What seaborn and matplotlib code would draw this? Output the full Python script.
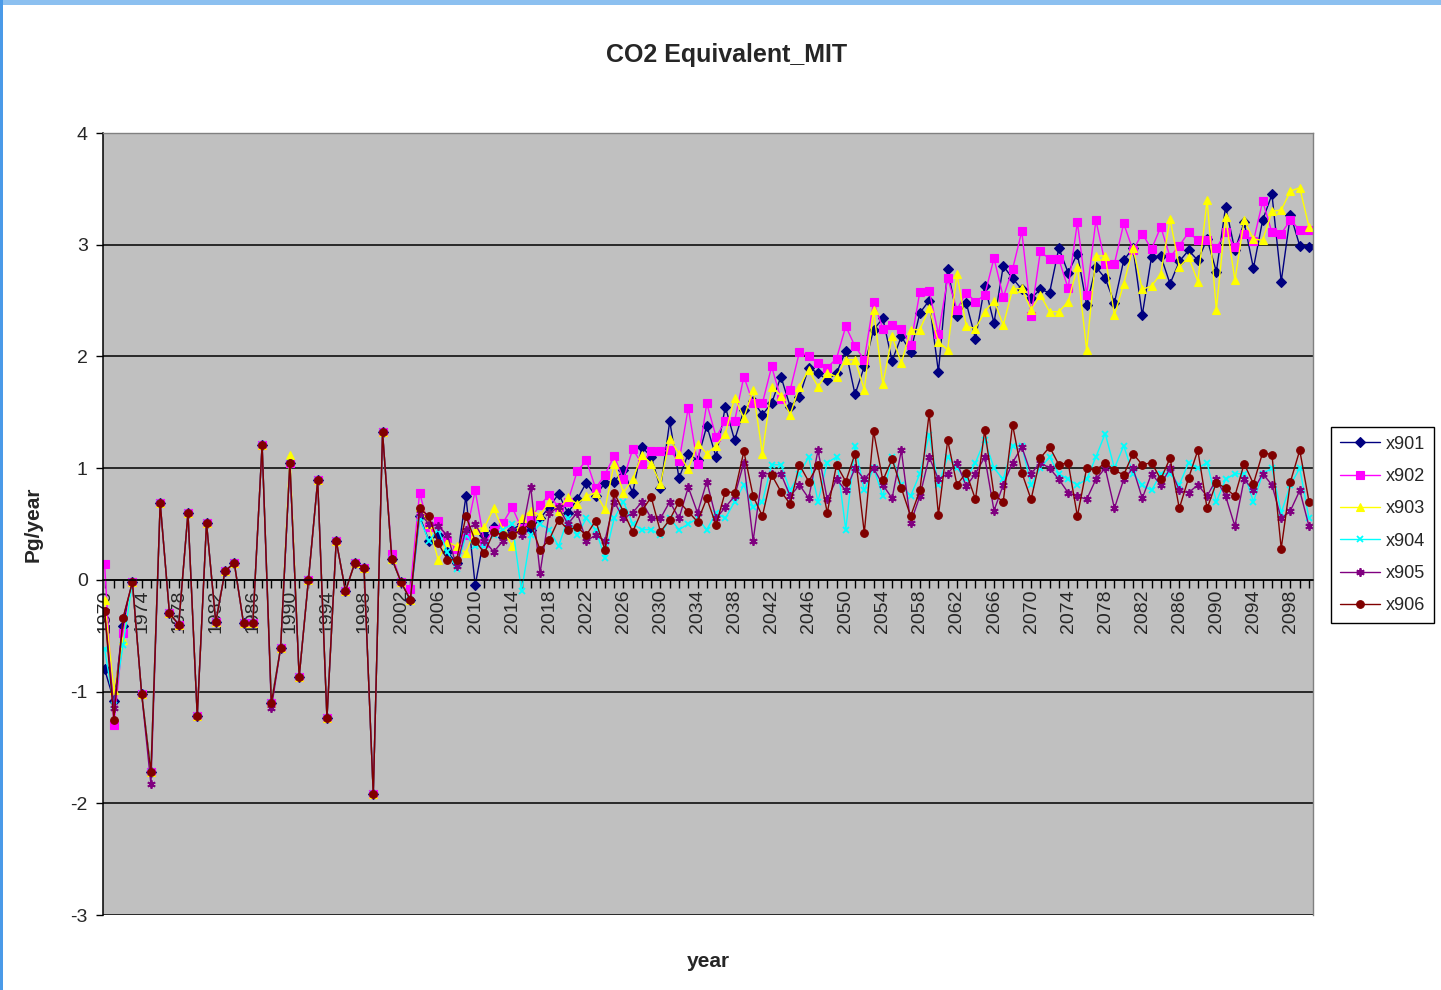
"""
CO2 Equivalent_MIT: annual flux of six model runs (x901-x906), 1970-2100,
redrawn in the style of the original Excel line chart.
"""

import matplotlib

matplotlib.use("Agg")

import matplotlib.pyplot as plt
import pandas as pd
import seaborn as sns
from matplotlib.patches import Rectangle

# --- DATA ---

YEARS = list(range(1970, 2101))
SERIES = ["x901", "x902", "x903", "x904", "x905", "x906"]

# 1970-2003: the runs share the observed record
HIST = [
    -0.28, -1.25, -0.34, -0.02, -1.02, -1.72, 0.69, -0.30, -0.40, 0.60,
    -1.22, 0.51, -0.38, 0.08, 0.15, -0.39, -0.39, 1.21, -1.10, -0.61,
    1.05, -0.87, 0.00, 0.89, -1.24, 0.35, -0.10, 0.15, 0.11, -1.92,
    1.32, 0.19, -0.02, -0.18,
]

# small per-run departures in the historical part
HIST_OVERRIDES = {
    "x901": {1970: -0.80, 1971: -1.08, 1972: -0.41},
    "x902": {1970: 0.14, 1971: -1.30, 1972: -0.48, 2001: 0.23, 2003: -0.08},
    "x903": {1970: -0.18, 1971: -0.99, 1972: -0.54, 1990: 1.12},
    "x904": {1970: -0.62, 1971: -1.12, 1972: -0.58},
    "x905": {1971: -1.15, 1975: -1.83, 1988: -1.15},
    "x906": {},
}

# 2004-2100 projections
X901 = [
    0.57, 0.35, 0.40, 0.25, 0.15, 0.75, -0.05, 0.40, 0.47, 0.38,
    0.45, 0.50, 0.45, 0.55, 0.65, 0.77, 0.60, 0.72, 0.87, 0.75,
    0.87, 0.88, 0.98, 0.78, 1.19, 1.10, 0.82, 1.42, 0.91, 1.13,
    1.07, 1.38, 1.10, 1.55, 1.25, 1.52, 1.60, 1.48, 1.58, 1.82,
    1.55, 1.64, 1.90, 1.85, 1.79, 1.85, 2.05, 1.66, 1.91, 2.24,
    2.34, 1.96, 2.18, 2.04, 2.39, 2.50, 1.86, 2.78, 2.36, 2.48,
    2.16, 2.63, 2.30, 2.81, 2.70, 2.60, 2.52, 2.60, 2.57, 2.97,
    2.75, 2.92, 2.46, 2.80, 2.70, 2.48, 2.86, 2.97, 2.37, 2.89,
    2.90, 2.65, 2.85, 2.95, 2.86, 3.05, 2.76, 3.34, 2.95, 3.20,
    2.79, 3.22, 3.45, 2.67, 3.27, 2.99, 2.98,
]
X902 = [
    0.78, 0.47, 0.53, 0.35, 0.28, 0.40, 0.80, 0.33, 0.45, 0.51,
    0.65, 0.46, 0.55, 0.67, 0.76, 0.65, 0.70, 0.97, 1.07, 0.82,
    0.94, 1.11, 0.90, 1.17, 1.04, 1.15, 1.15, 1.16, 1.06, 1.54,
    1.04, 1.58, 1.28, 1.42, 1.42, 1.82, 1.58, 1.58, 1.91, 1.62,
    1.70, 2.04, 2.00, 1.94, 1.90, 1.98, 2.27, 2.09, 1.97, 2.49,
    2.25, 2.28, 2.25, 2.10, 2.58, 2.59, 2.20, 2.70, 2.42, 2.57,
    2.49, 2.55, 2.88, 2.53, 2.78, 3.12, 2.36, 2.94, 2.87, 2.87,
    2.61, 3.20, 2.55, 3.22, 2.83, 2.83, 3.19, 2.95, 3.10, 2.96,
    3.16, 2.89, 2.99, 3.11, 3.04, 3.04, 2.97, 3.11, 2.98, 3.10,
    3.03, 3.39, 3.11, 3.10, 3.22, 3.13, 3.13,
]
X903 = [
    0.65, 0.50, 0.18, 0.34, 0.30, 0.24, 0.45, 0.47, 0.64, 0.45,
    0.30, 0.55, 0.62, 0.58, 0.70, 0.62, 0.74, 0.68, 0.75, 0.78,
    0.63, 1.04, 0.78, 0.90, 1.12, 1.04, 0.86, 1.26, 1.13, 0.99,
    1.22, 1.13, 1.20, 1.31, 1.63, 1.45, 1.70, 1.13, 1.73, 1.65,
    1.48, 1.73, 1.88, 1.73, 1.85, 1.82, 1.97, 1.97, 1.70, 2.42,
    1.75, 2.18, 1.94, 2.24, 2.24, 2.43, 2.13, 2.06, 2.74, 2.27,
    2.25, 2.40, 2.50, 2.28, 2.60, 2.61, 2.42, 2.55, 2.40, 2.40,
    2.49, 2.80, 2.06, 2.90, 2.90, 2.37, 2.65, 2.97, 2.60, 2.63,
    2.74, 3.23, 2.80, 2.89, 2.67, 3.40, 2.42, 3.25, 2.68, 3.22,
    3.05, 3.04, 3.30, 3.31, 3.48, 3.51, 3.16,
]
X904 = [
    0.55, 0.35, 0.45, 0.25, 0.10, 0.40, 0.30, 0.30, 0.40, 0.45,
    0.50, -0.10, 0.40, 0.50, 0.45, 0.30, 0.55, 0.40, 0.55, 0.45,
    0.20, 0.55, 0.70, 0.50, 0.45, 0.45, 0.40, 0.55, 0.45, 0.50,
    0.55, 0.45, 0.60, 0.55, 0.70, 0.85, 0.65, 0.70, 1.03, 1.03,
    0.80, 0.95, 1.10, 0.70, 1.05, 1.10, 0.45, 1.20, 0.80, 1.00,
    0.75, 1.10, 0.85, 0.75, 0.95, 1.30, 0.85, 1.10, 1.00, 0.90,
    1.05, 1.25, 1.00, 0.90, 1.20, 1.20, 0.85, 1.00, 1.10, 0.95,
    0.90, 0.85, 0.90, 1.10, 1.31, 1.00, 1.20, 0.95, 0.85, 0.80,
    0.95, 0.95, 0.85, 1.05, 1.00, 1.05, 0.70, 0.90, 0.95, 0.95,
    0.70, 0.95, 1.00, 0.60, 0.85, 1.00, 0.55,
]
X905 = [
    0.60, 0.50, 0.48, 0.40, 0.12, 0.45, 0.50, 0.35, 0.25, 0.35,
    0.45, 0.40, 0.83, 0.06, 0.60, 0.65, 0.50, 0.60, 0.35, 0.40,
    0.35, 0.70, 0.55, 0.60, 0.70, 0.55, 0.55, 0.70, 0.55, 0.83,
    0.60, 0.88, 0.55, 0.65, 0.75, 1.05, 0.35, 0.95, 0.95, 0.95,
    0.75, 0.85, 0.73, 1.16, 0.72, 0.90, 0.80, 1.00, 0.90, 1.00,
    0.85, 0.73, 1.16, 0.51, 0.75, 1.10, 0.90, 0.95, 1.05, 0.84,
    0.95, 1.10, 0.62, 0.85, 1.05, 1.19, 0.95, 1.05, 1.00, 0.90,
    0.78, 0.75, 0.72, 0.90, 1.00, 0.64, 0.90, 1.00, 0.73, 0.95,
    0.85, 1.00, 0.80, 0.78, 0.85, 0.75, 0.90, 0.75, 0.48, 0.90,
    0.80, 0.95, 0.85, 0.55, 0.62, 0.80, 0.48,
]
X906 = [
    0.64, 0.57, 0.33, 0.18, 0.18, 0.57, 0.35, 0.24, 0.43, 0.40,
    0.40, 0.45, 0.50, 0.27, 0.36, 0.54, 0.45, 0.47, 0.40, 0.53,
    0.27, 0.78, 0.61, 0.43, 0.62, 0.74, 0.43, 0.54, 0.70, 0.61,
    0.52, 0.73, 0.49, 0.79, 0.78, 1.15, 0.75, 0.57, 0.94, 0.79,
    0.68, 1.03, 0.88, 1.03, 0.60, 1.03, 0.88, 1.13, 0.42, 1.33,
    0.89, 1.08, 0.82, 0.57, 0.80, 1.49, 0.58, 1.25, 0.85, 0.96,
    0.72, 1.34, 0.76, 0.70, 1.39, 0.96, 0.72, 1.09, 1.19, 1.03,
    1.05, 0.57, 1.00, 0.98, 1.05, 0.98, 0.94, 1.13, 1.03, 1.05,
    0.90, 1.09, 0.64, 0.91, 1.16, 0.64, 0.87, 0.82, 0.75, 1.04,
    0.86, 1.14, 1.12, 0.28, 0.88, 1.16, 0.70,
]
PROJECTIONS = {"x901": X901, "x902": X902, "x903": X903,
               "x904": X904, "x905": X905, "x906": X906}

XTICK_LABELS = [str(y) if (y - 1970) % 4 == 0 else "" for y in YEARS]
YTICKS = [-3, -2, -1, 0, 1, 2, 3, 4]

# --- STYLE ---

COLORS = {"x901": "#000080", "x902": "#ff00ff", "x903": "#ffff00",
          "x904": "#00ffff", "x905": "#800080", "x906": "#800000"}
MARKERS = {"x901": "D", "x902": "s", "x903": "^",
           "x904": "x", "x905": (6, 2, 0), "x906": "o"}
MSIZE = {"x901": 5, "x902": 5.5, "x903": 6, "x904": 5, "x905": 6, "x906": 5.5}

sns.set_theme(style="white")
plt.rcParams["font.family"] = ["Liberation Sans", "DejaVu Sans"]


def build_frame():
    rows = []
    for name in SERIES:
        hist = list(HIST)
        for year, val in HIST_OVERRIDES[name].items():
            hist[year - 1970] = val
        values = hist + PROJECTIONS[name]
        assert len(values) == len(YEARS), name
        rows.append(pd.DataFrame({"year": YEARS, "value": values, "series": name}))
    return pd.concat(rows, ignore_index=True)


df = build_frame()

fig = plt.figure(figsize=(14.41, 9.90), dpi=100)
fig.patch.set_facecolor("white")
ax = fig.add_axes([103 / 1441, 1 - 915 / 990, 1210 / 1441, 782 / 990])
ax.set_facecolor("#c0c0c0")

sns.lineplot(
    data=df,
    x="year",
    y="value",
    hue="series",
    hue_order=SERIES,
    palette=COLORS,
    estimator=None,
    errorbar=None,
    linewidth=1.0,
    legend=False,
    ax=ax,
)

# seaborn won't mix filled and line-art markers, so set them per line
series_lines = list(ax.lines[: len(SERIES)])
for line, name in zip(series_lines, SERIES):
    col = COLORS[name]
    line.set_marker(MARKERS[name])
    line.set_markeredgecolor(col)
    line.set_markerfacecolor(col)
    line.set_markersize(MSIZE[name])
    line.set_markeredgewidth(1.3 if name in ("x904", "x905") else 0.8)
    line.set_zorder(2 + SERIES.index(name) * 0.1)

# horizontal gridlines
for v in YTICKS[:-1]:
    ax.axhline(v, color="black", lw=1.1, zorder=0.5)

ax.set_xlim(1970 - 1.6 / 9.27, 2100 + 4 / 9.27)
ax.set_ylim(-3, 4)

ax.set_xticks(YEARS)
ax.set_xticklabels(XTICK_LABELS)
ax.set_yticks(YTICKS)
ax.set_yticklabels([str(v) for v in YTICKS])
ax.tick_params(axis="x", direction="out", length=6, width=1, color="black",
               labelrotation=90, labelsize=14, pad=1, bottom=True)
ax.tick_params(axis="y", direction="out", length=5, width=1, color="black",
               labelsize=14, pad=6, left=True)

ax.spines["bottom"].set_position(("data", 0))
ax.spines["bottom"].set_color("black")
ax.spines["bottom"].set_linewidth(1.1)
ax.spines["left"].set_color("black")
ax.spines["left"].set_linewidth(1.1)
for side in ("top", "right"):
    ax.spines[side].set_visible(True)
    ax.spines[side].set_color("#808080")
    ax.spines[side].set_linewidth(1.0)

ax.set_xlabel("year", fontsize=15, fontweight="bold")
ax.xaxis.set_label_coords(0.5, -0.047)
ax.set_ylabel("Pg/year", fontsize=15, fontweight="bold")
ax.yaxis.set_label_coords(-0.0496, 0.5)

fig.text(0.504, 1 - 55 / 990, "CO2 Equivalent_MIT", ha="center", va="center",
         fontsize=18, fontweight="bold")

leg = fig.legend(
    series_lines,
    SERIES,
    loc="center left",
    bbox_to_anchor=(1331 / 1441, 1 - 525 / 990),
    frameon=True,
    fancybox=False,
    framealpha=1,
    edgecolor="black",
    fontsize=13,
    handlelength=2.2,
    handletextpad=0.35,
    labelspacing=0.85,
    borderpad=0.5,
    borderaxespad=0,
)
leg.get_frame().set_linewidth(1.0)

# window frame remnants of the screenshot
fig.patches.append(Rectangle((0, 1 - 5 / 990), 1, 5 / 990, transform=fig.transFigure,
                             facecolor="#8cc0f0", edgecolor="none", zorder=-1))
fig.patches.append(Rectangle((0, 0), 3 / 1441, 1, transform=fig.transFigure,
                             facecolor="#4a9ae8", edgecolor="none", zorder=-1))

fig.savefig("out.png", dpi=100)
